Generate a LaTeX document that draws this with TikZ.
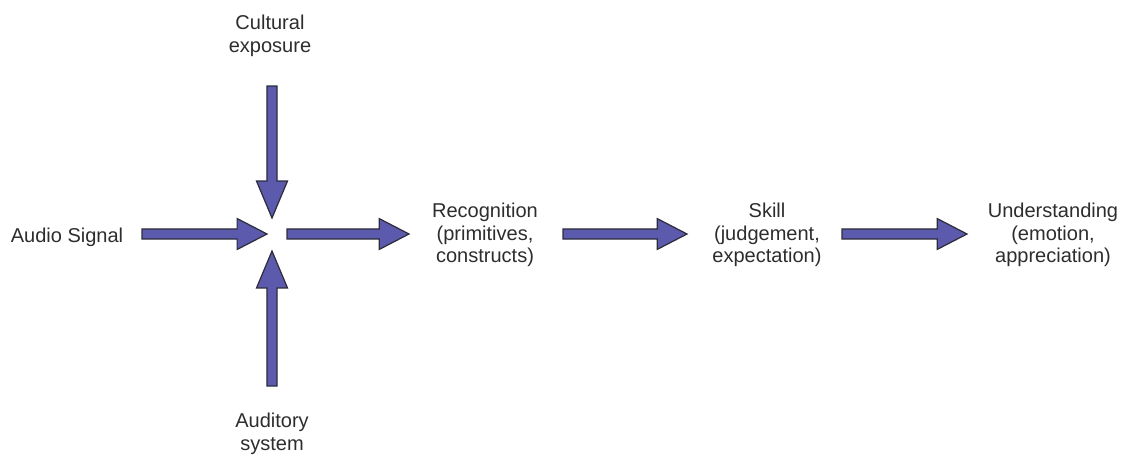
\documentclass[tikz,border=0pt]{standalone}
\usepackage{fontspec}
\setmainfont{Liberation Sans}
\usepackage{tikz}
\usetikzlibrary{positioning,calc}

\definecolor{arrowfill}{RGB}{92,90,172}
\definecolor{arrowline}{RGB}{45,45,60}
\definecolor{labeltext}{RGB}{45,45,45}

% thick block arrow drawn from start to target, #1 = head length
\tikzset{
  flow/.style={draw=arrowline, fill=arrowfill, line width=0.7pt, line join=miter,
    to path={
      ($(\tikztostart)!2.9pt!90:(\tikztotarget)$)
      -- ($(\tikztotarget)!#1!(\tikztostart)!2.9pt!-90:(\tikztostart)$)
      -- ($(\tikztotarget)!#1!(\tikztostart)!8.8pt!-90:(\tikztostart)$)
      -- (\tikztotarget)
      -- ($(\tikztotarget)!#1!(\tikztostart)!8.8pt!90:(\tikztostart)$)
      -- ($(\tikztotarget)!#1!(\tikztostart)!2.9pt!90:(\tikztostart)$)
      -- ($(\tikztostart)!2.9pt!-90:(\tikztotarget)$)
      -- cycle}},
  flow/.default=17pt,
  label/.style={align=center, text=labeltext, inner sep=0pt,
    font=\fontsize{11.4}{12.8}\selectfont}
}

\begin{document}
\begin{tikzpicture}[x=0.02cm, y=-0.02cm]
  \useasboundingbox (0,0) rectangle (1123,454);

  % labels
  \node[label] (signal) at (67,237) {Audio Signal};
  \node[label] (culture) at (270,36) {Cultural\\exposure};
  \node[label] (auditory) at (272,434) {Auditory\\system};
  \node[label] (recog) at (485,235) {Recognition\\(primitives,\\constructs)};
  \node[label] (skill) at (767,235) {Skill\\(judgement,\\expectation)};
  \node[label] (under) at (1053,235) {Understanding\\(emotion,\\appreciation)};

  % arrow ends
  \coordinate (signal-out) at (142,234);
  \coordinate (hub-w) at (267,234);
  \coordinate (culture-out) at (272,86);
  \coordinate (hub-n) at (272,218);
  \coordinate (auditory-out) at (272,386);
  \coordinate (hub-s) at (272,251);
  \coordinate (hub-e) at (287,234);
  \coordinate (recog-in) at (409,234);
  \coordinate (recog-out) at (563,234);
  \coordinate (skill-in) at (687,234);
  \coordinate (skill-out) at (842,234);
  \coordinate (under-in) at (967,234);

  % arrows
  \draw[flow] (signal-out) to (hub-w);
  \draw[flow=21pt] (culture-out) to (hub-n);
  \draw[flow=21pt] (auditory-out) to (hub-s);
  \draw[flow] (hub-e) to (recog-in);
  \draw[flow] (recog-out) to (skill-in);
  \draw[flow] (skill-out) to (under-in);
\end{tikzpicture}
\end{document}
